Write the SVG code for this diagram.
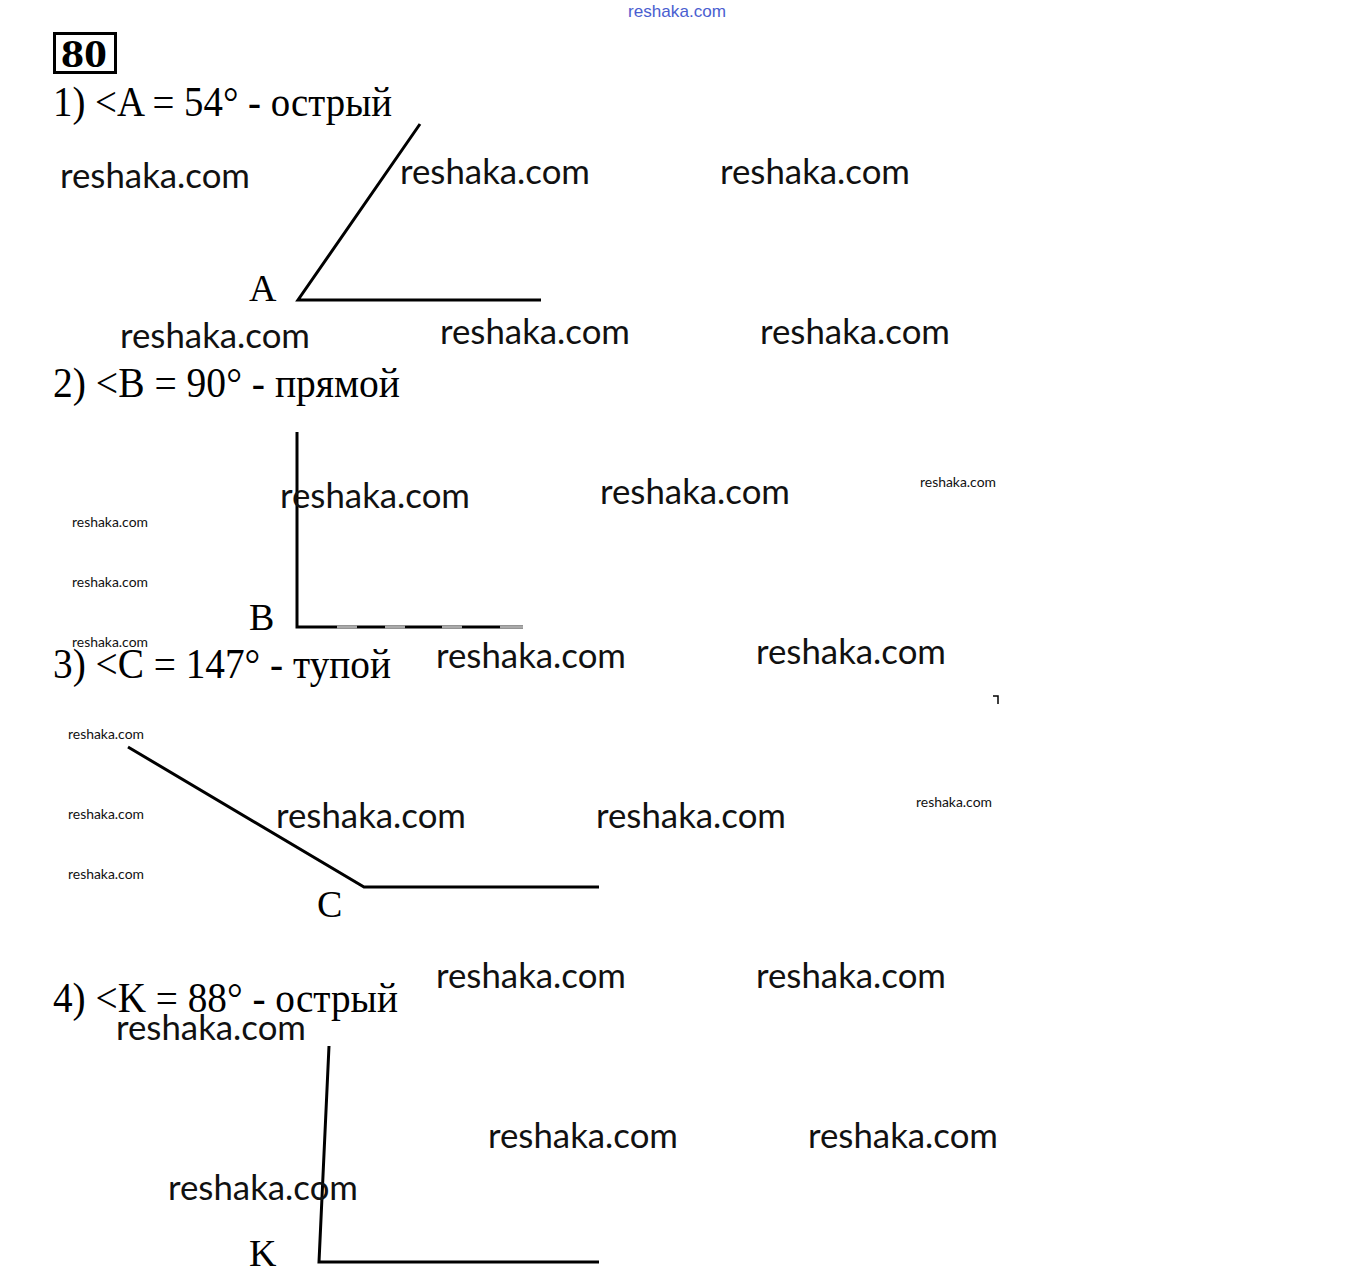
<svg xmlns="http://www.w3.org/2000/svg" width="1352" height="1288" viewBox="0 0 1352 1288">
<style>
.t{font-family:"Liberation Serif","Times New Roman",serif;font-size:42px;fill:#000}
.lbl{font-family:"Liberation Serif","Times New Roman",serif;font-size:38px;fill:#000}
.wm{font-family:Lato,"Open Sans",sans-serif;font-size:34px;fill:#111}
.ws{font-family:Lato,"Open Sans",sans-serif;font-size:13.500px;fill:#111}
.ln{stroke:#000;stroke-width:3;fill:none;stroke-linecap:butt}
</style>
<rect width="1352" height="1288" fill="#fff"/>
<text x="628" y="17" font-family="'Liberation Sans Narrow','Liberation Sans',sans-serif" font-size="17" fill="#4a5ed0" textLength="98" lengthAdjust="spacingAndGlyphs">reshaka.com</text>
<g id="title">
<rect x="54.500" y="33.500" width="61" height="39" fill="none" stroke="#000" stroke-width="3"/>
<text x="61" y="67" font-family="'Liberation Serif',serif" font-size="40" font-weight="bold" textLength="46" lengthAdjust="spacingAndGlyphs">80</text>
</g>
<g id="texts">
<text class="t" x="53" y="116" textLength="339" lengthAdjust="spacingAndGlyphs">1) &lt;A = 54° - острый</text>
<text class="t" x="53" y="397" textLength="347" lengthAdjust="spacingAndGlyphs">2) &lt;B = 90° - прямой</text>
<text class="t" x="53" y="678" textLength="338" lengthAdjust="spacingAndGlyphs">3) &lt;C = 147° - тупой</text>
<text class="t" x="53" y="1012" textLength="345" lengthAdjust="spacingAndGlyphs">4) &lt;K = 88° - острый</text>
</g>
<g id="angleA">
<polyline class="ln" points="420,124 298,300 541,300"/>
<text class="lbl" x="249" y="301">A</text>
</g>
<g id="angleB">
<polyline class="ln" points="297,432 297,627 523,627"/>
<line x1="297" y1="627" x2="523" y2="627" stroke="#aaa" stroke-width="3" stroke-dasharray="0,40,20,28,20,37,20,38,20"/>
<text class="lbl" x="249" y="630">B</text>
</g>
<g id="angleC">
<polyline class="ln" points="128,747 364,887 599,887"/>
<text class="lbl" x="317" y="917">C</text>
</g>
<g id="angleK">
<polyline class="ln" points="329,1046 319,1262 599,1262"/>
<text class="lbl" x="249" y="1266">K</text>
</g>
<polyline points="993,696 998,696 998,704" fill="none" stroke="#000" stroke-width="1.500"/>
<g id="watermarks">
<text class="wm" x="60" y="188" textLength="190" lengthAdjust="spacingAndGlyphs">reshaka.com</text>
<text class="wm" x="400" y="184" textLength="190" lengthAdjust="spacingAndGlyphs">reshaka.com</text>
<text class="wm" x="720" y="184" textLength="190" lengthAdjust="spacingAndGlyphs">reshaka.com</text>
<text class="wm" x="120" y="348" textLength="190" lengthAdjust="spacingAndGlyphs">reshaka.com</text>
<text class="wm" x="440" y="344" textLength="190" lengthAdjust="spacingAndGlyphs">reshaka.com</text>
<text class="wm" x="760" y="344" textLength="190" lengthAdjust="spacingAndGlyphs">reshaka.com</text>
<text class="wm" x="280" y="508" textLength="190" lengthAdjust="spacingAndGlyphs">reshaka.com</text>
<text class="wm" x="600" y="504" textLength="190" lengthAdjust="spacingAndGlyphs">reshaka.com</text>
<text class="wm" x="436" y="668" textLength="190" lengthAdjust="spacingAndGlyphs">reshaka.com</text>
<text class="wm" x="756" y="664" textLength="190" lengthAdjust="spacingAndGlyphs">reshaka.com</text>
<text class="wm" x="276" y="828" textLength="190" lengthAdjust="spacingAndGlyphs">reshaka.com</text>
<text class="wm" x="596" y="828" textLength="190" lengthAdjust="spacingAndGlyphs">reshaka.com</text>
<text class="wm" x="436" y="988" textLength="190" lengthAdjust="spacingAndGlyphs">reshaka.com</text>
<text class="wm" x="756" y="988" textLength="190" lengthAdjust="spacingAndGlyphs">reshaka.com</text>
<text class="wm" x="116" y="1040" textLength="190" lengthAdjust="spacingAndGlyphs">reshaka.com</text>
<text class="wm" x="488" y="1148" textLength="190" lengthAdjust="spacingAndGlyphs">reshaka.com</text>
<text class="wm" x="808" y="1148" textLength="190" lengthAdjust="spacingAndGlyphs">reshaka.com</text>
<text class="wm" x="168" y="1200" textLength="190" lengthAdjust="spacingAndGlyphs">reshaka.com</text>
<text class="ws" x="920" y="487" textLength="76" lengthAdjust="spacingAndGlyphs">reshaka.com</text>
<text class="ws" x="72" y="527" textLength="76" lengthAdjust="spacingAndGlyphs">reshaka.com</text>
<text class="ws" x="72" y="587" textLength="76" lengthAdjust="spacingAndGlyphs">reshaka.com</text>
<text class="ws" x="72" y="647" textLength="76" lengthAdjust="spacingAndGlyphs">reshaka.com</text>
<text class="ws" x="68" y="739" textLength="76" lengthAdjust="spacingAndGlyphs">reshaka.com</text>
<text class="ws" x="68" y="819" textLength="76" lengthAdjust="spacingAndGlyphs">reshaka.com</text>
<text class="ws" x="68" y="879" textLength="76" lengthAdjust="spacingAndGlyphs">reshaka.com</text>
<text class="ws" x="916" y="807" textLength="76" lengthAdjust="spacingAndGlyphs">reshaka.com</text>
</g>
</svg>
